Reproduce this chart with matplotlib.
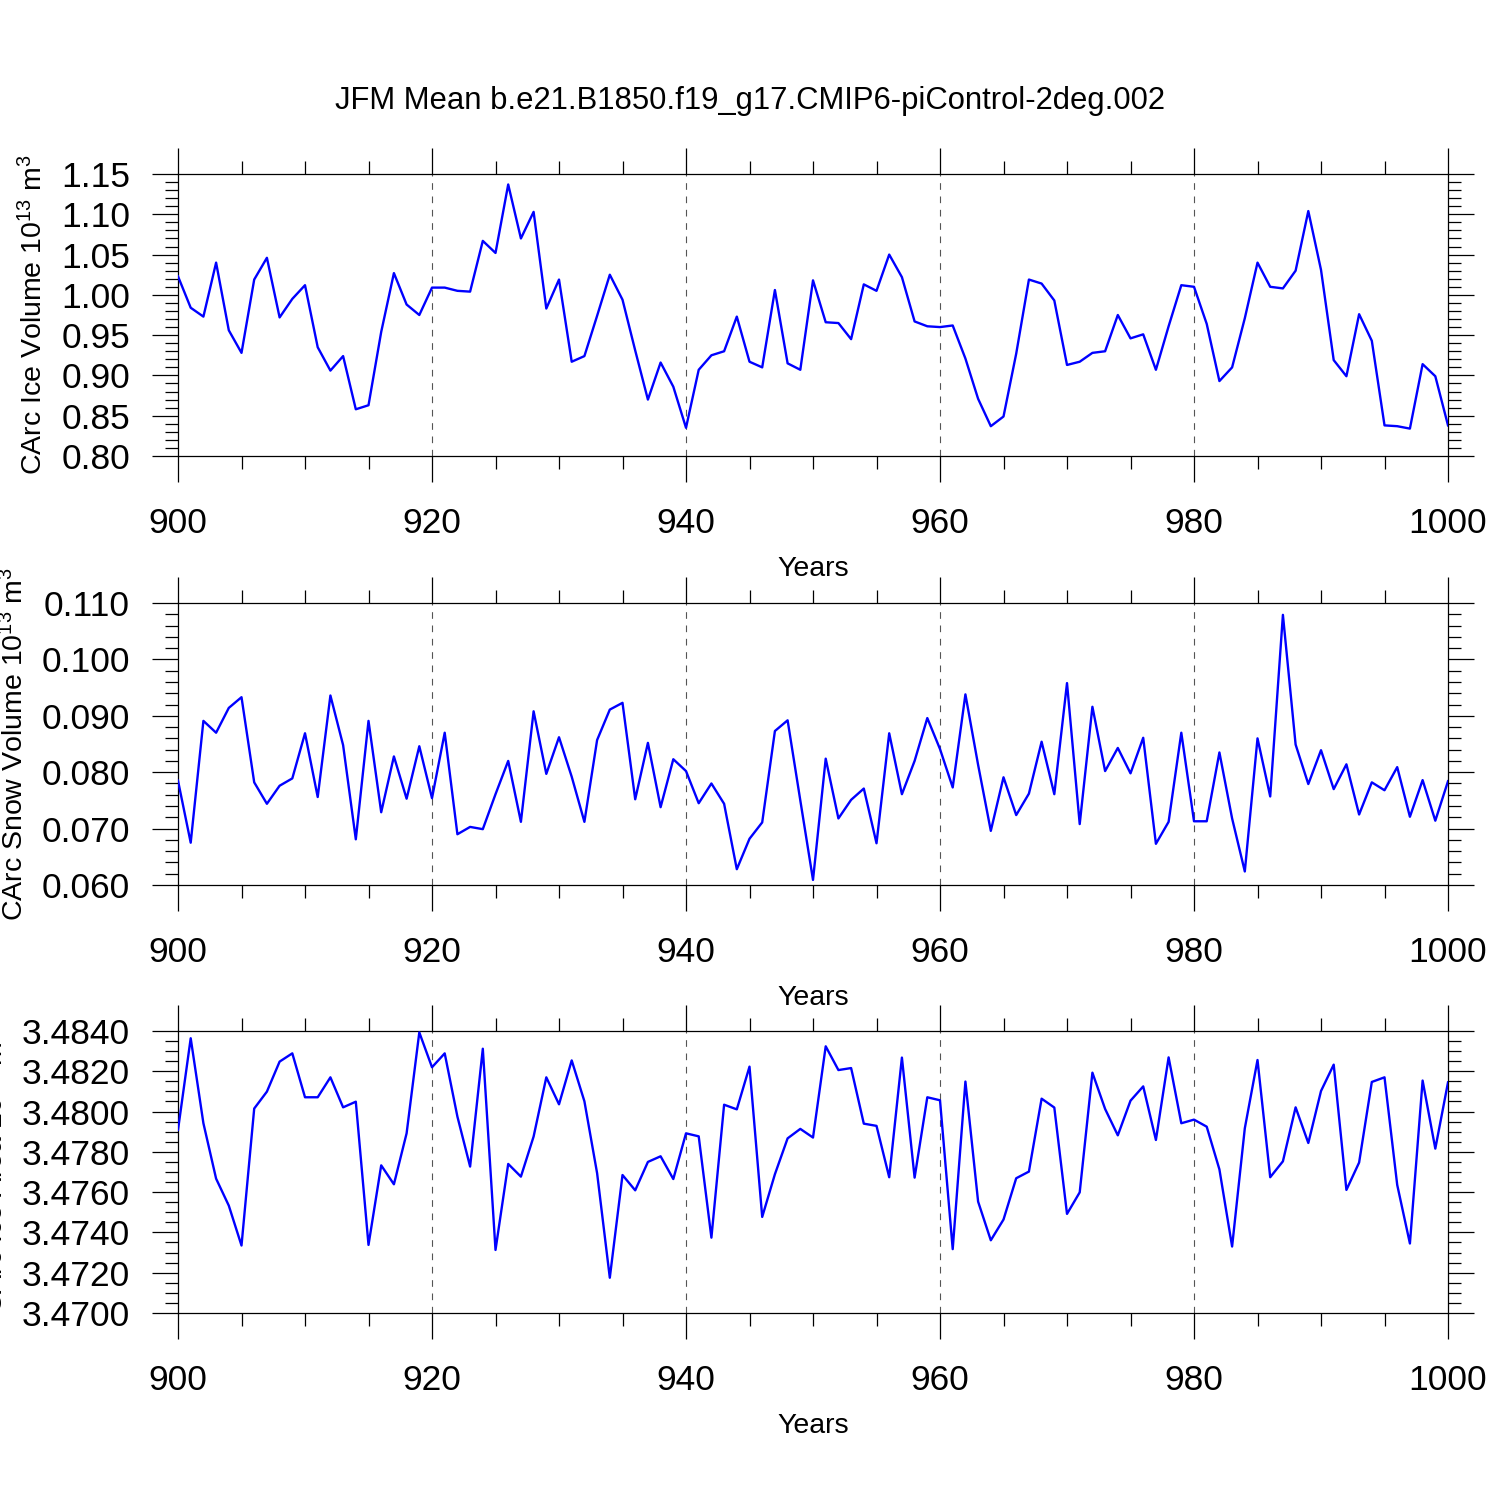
import numpy as np
import matplotlib
matplotlib.use('Agg')
import matplotlib.pyplot as plt
from matplotlib.ticker import FormatStrFormatter

plt.rcParams['font.family'] = ['Liberation Sans', 'DejaVu Sans']
plt.rcParams['mathtext.default'] = 'regular'

years = np.arange(900, 1001)

ice_volume = [1.023, 0.984, 0.973, 1.040, 0.956, 0.928, 1.019, 1.046, 0.972, 0.995, 1.012,
              0.935, 0.906, 0.924, 0.858, 0.863, 0.954, 1.027, 0.988, 0.975, 1.009,
              1.009, 1.005, 1.004, 1.067, 1.052, 1.137, 1.070, 1.103, 0.983, 1.019,
              0.917, 0.924, 0.974, 1.025, 0.994, 0.931, 0.870, 0.916, 0.886, 0.835,
              0.907, 0.925, 0.930, 0.973, 0.917, 0.910, 1.006, 0.915, 0.907, 1.018,
              0.966, 0.965, 0.945, 1.013, 1.005, 1.050, 1.022, 0.967, 0.961, 0.960,
              0.962, 0.921, 0.871, 0.837, 0.849, 0.927, 1.019, 1.014, 0.993, 0.913,
              0.917, 0.928, 0.930, 0.975, 0.946, 0.951, 0.907, 0.961, 1.012, 1.010,
              0.964, 0.893, 0.910, 0.971, 1.040, 1.010, 1.008, 1.030, 1.104, 1.031,
              0.919, 0.899, 0.976, 0.943, 0.838, 0.837, 0.834, 0.914, 0.899, 0.838]

snow_volume = [0.0785, 0.0675, 0.0891, 0.0870, 0.0914, 0.0933, 0.0782, 0.0744, 0.0776, 0.0789, 0.0869,
               0.0756, 0.0936, 0.0848, 0.0681, 0.0891, 0.0729, 0.0828, 0.0753, 0.0846, 0.0754,
               0.0870, 0.0690, 0.0703, 0.0699, 0.0761, 0.0820, 0.0712, 0.0908, 0.0797, 0.0862,
               0.0792, 0.0712, 0.0857, 0.0911, 0.0923, 0.0752, 0.0852, 0.0738, 0.0823, 0.0802,
               0.0745, 0.0780, 0.0744, 0.0628, 0.0682, 0.0711, 0.0873, 0.0892, 0.0750, 0.0609,
               0.0824, 0.0718, 0.0751, 0.0771, 0.0674, 0.0869, 0.0761, 0.0820, 0.0896, 0.0841,
               0.0773, 0.0938, 0.0813, 0.0696, 0.0791, 0.0724, 0.0762, 0.0854, 0.0761, 0.0958,
               0.0708, 0.0916, 0.0802, 0.0843, 0.0798, 0.0861, 0.0673, 0.0712, 0.0870, 0.0713,
               0.0713, 0.0835, 0.0718, 0.0624, 0.0860, 0.0757, 0.1079, 0.0849, 0.0779, 0.0839,
               0.0770, 0.0814, 0.0725, 0.0782, 0.0768, 0.0809, 0.0721, 0.0786, 0.0714, 0.0784]

ice_area = [3.47909, 3.48364, 3.47942, 3.47667, 3.47533, 3.47335, 3.48015, 3.48099, 3.48248, 3.48289, 3.48071,
            3.48071, 3.48170, 3.48021, 3.48049, 3.47338, 3.47733, 3.47639, 3.47892, 3.48393, 3.48220,
            3.48289, 3.47975, 3.47727, 3.48312, 3.47313, 3.47740, 3.47677, 3.47876, 3.48170, 3.48036,
            3.48254, 3.48051, 3.47694, 3.47175, 3.47685, 3.47609, 3.47750, 3.47778, 3.47665, 3.47892,
            3.47877, 3.47374, 3.48034, 3.48011, 3.48223, 3.47477, 3.47689, 3.47867, 3.47914, 3.47871,
            3.48324, 3.48206, 3.48216, 3.47940, 3.47929, 3.47674, 3.48268, 3.47672, 3.48071, 3.48056,
            3.47317, 3.48149, 3.47553, 3.47361, 3.47464, 3.47669, 3.47702, 3.48064, 3.48020, 3.47492,
            3.47599, 3.48193, 3.48013, 3.47882, 3.48054, 3.48125, 3.47859, 3.48269, 3.47942, 3.47960,
            3.47925, 3.47713, 3.47330, 3.47917, 3.48256, 3.47674, 3.47753, 3.48021, 3.47844, 3.48102,
            3.48233, 3.47611, 3.47747, 3.48147, 3.48170, 3.47636, 3.47345, 3.48154, 3.47816, 3.48145]

title = 'JFM Mean b.e21.B1850.f19_g17.CMIP6-piControl-2deg.002'

# (series, ylabel, ymin, major step, n major, minor per major, format, axes bottom)
panels = [
    (ice_volume, 'CArc Ice Volume 10$^{13}$ m$^3$', 0.80, 0.05, 8, 5, '%.2f', 0.696),
    (snow_volume, 'CArc Snow Volume 10$^{13}$ m$^3$', 0.060, 0.010, 6, 5, '%.3f', 0.410),
    (ice_area, 'CArc Ice Area 10$^{13}$ m$^2$', 3.4700, 0.002, 8, 4, '%.4f', 0.12467),
]

fig = plt.figure(figsize=(15, 15), dpi=100)

for data, ylab, ymin, step, nmaj, nsub, fmt, bottom in panels:
    ax = fig.add_axes([0.11867, bottom, 0.84667, 0.188])
    ax.plot(years, data, color='#0000ff', lw=1.7, zorder=3)
    ymax = ymin + step * (nmaj - 1)
    ax.set_xlim(900, 1000)
    ax.set_xticks(np.arange(900, 1001, 20))
    ax.set_xticks(np.arange(900, 1001, 5), minor=True)
    ax.set_yticks(ymin + step * np.arange(nmaj))
    ax.set_yticks(ymin + step / nsub * np.arange((nmaj - 1) * nsub + 1), minor=True)
    ax.set_ylim(ymin, ymax)
    ax.yaxis.set_major_formatter(FormatStrFormatter(fmt))
    for x in [920, 940, 960, 980]:
        ax.axvline(x, color='#555555', lw=0.8, ls=(0, (6, 6)), zorder=1)
    ax.tick_params(which='both', direction='out', top=True, right=True, width=0.9)
    ax.tick_params(which='major', length=19, labelsize=25.5)
    ax.tick_params(which='minor', length=9.5)
    ax.tick_params(axis='x', which='major', pad=17.5)
    ax.tick_params(axis='y', which='major', pad=15.5)
    ax.tick_params(labeltop=False, labelright=False)
    for s in ax.spines.values():
        s.set_linewidth(0.9)
    ax.set_xlabel('Years', fontsize=20.5, labelpad=11.5)
    ax.set_ylabel(ylab, fontsize=20.5, labelpad=9)

fig.text(0.5, 0.933, title, ha='center', va='center', fontsize=22.3)

fig.savefig('out.png', dpi=100)
